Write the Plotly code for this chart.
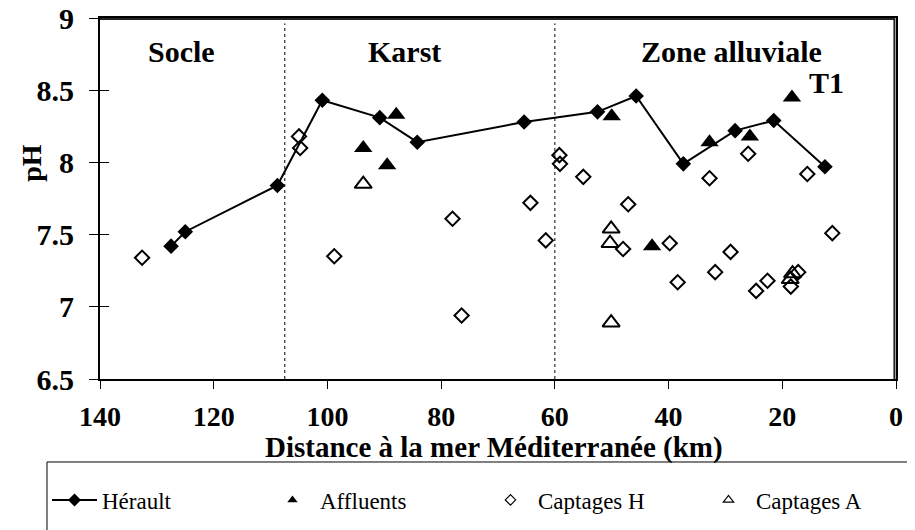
import plotly.graph_objects as go

# ---- data ----
herault_x = [127.5, 125.0, 108.8, 100.9, 90.8, 84.2, 65.4, 52.5, 45.7, 37.4, 28.3, 21.5, 12.5]
herault_y = [7.42, 7.52, 7.84, 8.43, 8.31, 8.14, 8.28, 8.35, 8.46, 7.99, 8.22, 8.29, 7.97]

affluents_x = [93.7, 89.5, 87.9, 50.0, 42.9, 32.8, 25.7, 18.3]
affluents_y = [8.10, 7.98, 8.33, 8.32, 7.42, 8.14, 8.18, 8.45]

captH_x = [132.6, 105.0, 104.8, 98.8, 78.0, 76.4, 64.3, 61.6, 59.2, 59.1, 55.0, 48.0, 47.1,
           39.8, 38.4, 32.8, 31.8, 29.1, 26.0, 24.6, 22.6, 18.5, 17.2, 15.6, 11.2]
captH_y = [7.34, 8.18, 8.10, 7.35, 7.61, 6.94, 7.72, 7.46, 8.05, 7.99, 7.90, 7.40, 7.71,
           7.44, 7.17, 7.89, 7.24, 7.38, 8.06, 7.11, 7.18, 7.14, 7.24, 7.92, 7.51]

captA_x = [93.7, 50.1, 50.3, 50.1, 18.6, 18.2]
captA_y = [7.85, 7.54, 7.44, 6.89, 7.19, 7.23]

zone_bounds = [107.5, 60.0]
zone_labels = ["Socle", "Karst", "Zone alluviale", "T1"]
zone_label_x = [125.6, 86.4, 28.9, 12.3]
zone_label_y = [8.77, 8.77, 8.77, 8.55]

x_range = [140, 0]
y_range = [6.5, 9]
x_ticks = [140, 120, 100, 80, 60, 40, 20, 0]
y_ticks = [6.5, 7, 7.5, 8, 8.5, 9]

FONT = "Liberation Serif"

fig = go.Figure()

# data traces (legend handled by small dummy entries)
fig.add_trace(go.Scatter(x=captH_x, y=captH_y, mode="markers", showlegend=False,
                         marker=dict(symbol="diamond-open", size=11, color="black",
                                     line=dict(width=2, color="black"))))
fig.add_trace(go.Scatter(x=captA_x, y=captA_y, mode="markers", showlegend=False,
                         marker=dict(symbol="triangle-up-open", size=15, color="black",
                                     line=dict(width=2, color="black"))))
fig.add_trace(go.Scatter(x=herault_x, y=herault_y, mode="lines+markers", showlegend=False,
                         line=dict(color="black", width=2),
                         marker=dict(symbol="diamond", size=12, color="black")))
fig.add_trace(go.Scatter(x=affluents_x, y=affluents_y, mode="markers", showlegend=False,
                         marker=dict(symbol="triangle-up", size=16, color="black")))

# legend entries
fig.add_trace(go.Scatter(x=[None], y=[None], mode="lines+markers", name="Hérault",
                         line=dict(color="black", width=2),
                         marker=dict(symbol="diamond", size=10, color="black")))
fig.add_trace(go.Scatter(x=[None], y=[None], mode="markers", name="Affluents",
                         marker=dict(symbol="triangle-up", size=9, color="black")))
fig.add_trace(go.Scatter(x=[None], y=[None], mode="markers", name="Captages H",
                         marker=dict(symbol="diamond-open", size=8, color="black",
                                     line=dict(width=1.2, color="black"))))
fig.add_trace(go.Scatter(x=[None], y=[None], mode="markers", name="Captages A",
                         marker=dict(symbol="triangle-up-open", size=9, color="black",
                                     line=dict(width=1.2, color="black"))))

# inside ticks on a twin y-axis (to mimic crossing ticks)
fig.add_trace(go.Scatter(x=[None], y=[None], yaxis="y2", showlegend=False))

shapes = [dict(type="line", xref="x", yref="paper", x0=b, x1=b, y0=0, y1=0.985,
               line=dict(color="black", width=1, dash="dot")) for b in zone_bounds]
# plot-area frame: top and right edges, just inside the plotting area
shapes.append(dict(type="line", xref="paper", yref="paper", x0=0, x1=0.999,
                   y0=0.997, y1=0.997, layer="above", line=dict(color="#222222", width=2)))
shapes.append(dict(type="line", xref="paper", yref="paper", x0=0.998, x1=0.998,
                   y0=0, y1=0.998, layer="above", line=dict(color="#222222", width=2)))
# legend frame (runs past the picture edges, like the original)
shapes.append(dict(type="rect", xref="paper", yref="paper", x0=-0.0666, x1=1.05,
                   y0=-0.47, y1=-0.2299,
                   line=dict(color="black", width=1), fillcolor="rgba(0,0,0,0)"))

annotations = [dict(x=x, y=y, xref="x", yref="y", text=f"<b>{t}</b>", showarrow=False,
                    xanchor="center", yanchor="middle",
                    font=dict(family=FONT, size=30, color="black"))
               for t, x, y in zip(zone_labels, zone_label_x, zone_label_y)]
annotations.append(dict(x=-0.087, y=0.598, xref="paper", yref="paper", text="<b>pH</b>",
                        textangle=-90, showarrow=False, xanchor="center", yanchor="middle",
                        font=dict(family=FONT, size=28, color="black")))
annotations.append(dict(x=0.495, y=-0.19, xref="paper", yref="paper",
                        text="<b>Distance à la mer Méditerranée (km)</b>",
                        showarrow=False, xanchor="center", yanchor="middle",
                        font=dict(family=FONT, size=29, color="black")))

fig.update_layout(
    width=907, height=522,
    margin=dict(l=92, r=19, t=10, b=151, autoexpand=False),
    paper_bgcolor="white", plot_bgcolor="white",
    font=dict(family=FONT, color="black"),
    shapes=shapes, annotations=annotations,
    xaxis=dict(range=x_range, autorange=False, tickvals=x_ticks,
               ticktext=[str(v) for v in x_ticks],
               showgrid=False, zeroline=False, showline=True, linecolor="black", linewidth=2,
               mirror=True, ticks="outside", ticklen=8, tickcolor="black",
               ticklabelstandoff=3, ticklabeloverflow="allow",
               tickfont=dict(family=FONT, size=28, color="black", weight="bold")),
    yaxis=dict(range=y_range, autorange=False, tickvals=y_ticks,
               ticktext=[f"{v:g}" for v in y_ticks],
               showgrid=False, zeroline=False, showline=True, linecolor="black", linewidth=2,
               mirror=True, ticks="outside", ticklen=9, tickcolor="black",
               ticklabelstandoff=9, ticklabeloverflow="allow",
               tickfont=dict(family=FONT, size=30, color="black", weight="bold")),
    yaxis2=dict(range=y_range, autorange=False, tickvals=y_ticks, overlaying="y",
                side="left", showticklabels=False, showgrid=False, zeroline=False,
                ticks="inside", ticklen=9, tickcolor="black"),
    legend=dict(orientation="h", x=-0.0666, xanchor="left", y=-0.335, yanchor="middle",
                borderwidth=0, bgcolor="rgba(0,0,0,0)",
                font=dict(family=FONT, size=23, color="black"),
                itemwidth=45,
                entrywidth=158, entrywidthmode="pixels", tracegroupgap=0),
)

fig.write_html("out.html")
